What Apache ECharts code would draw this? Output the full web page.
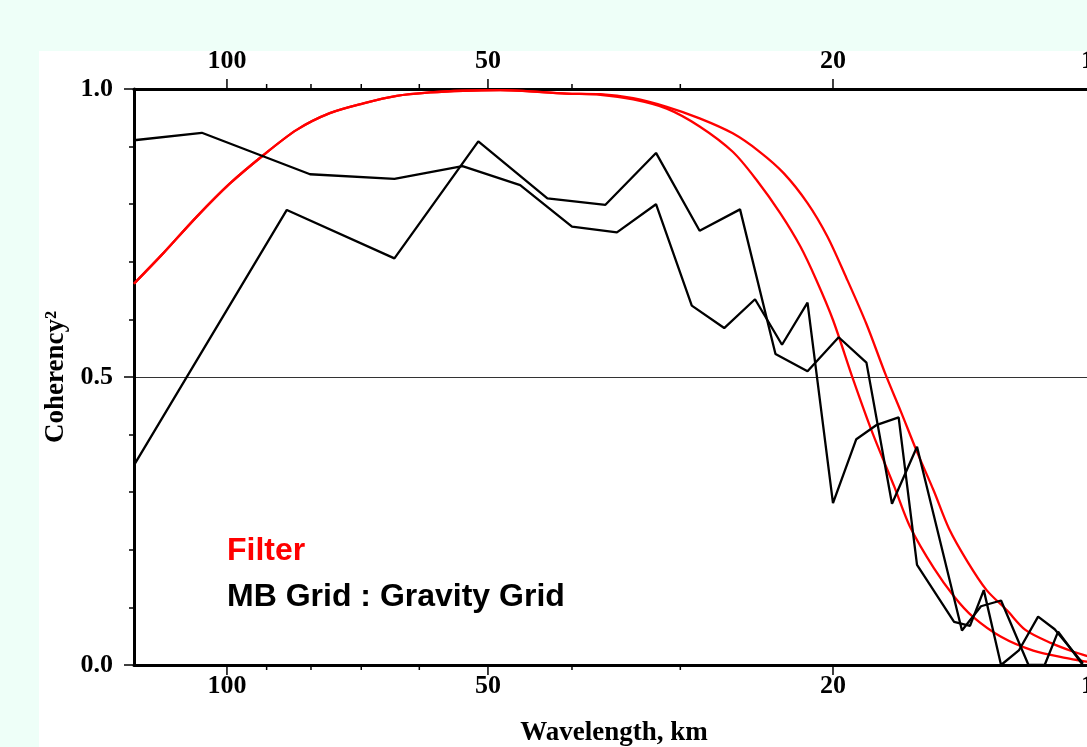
<!DOCTYPE html>
<html>
<head>
<meta charset="utf-8">
<title>Coherency</title>
<script src="https://cdn.jsdelivr.net/npm/echarts@6/dist/echarts.min.js"></script>
<style>
  html, body { margin: 0; padding: 0; width: 1087px; height: 747px; overflow: hidden; background: #eefff8; }
  .panel { position: absolute; left: 39px; top: 51px; width: 1200px; height: 800px; background: #fff; }
  #chart { position: absolute; left: 0; top: 0; width: 1200px; height: 747px; }
</style>
</head>
<body>
<div class="panel"></div>
<div id="chart"></div>
<script>
var serif = "'Liberation Serif', 'Times New Roman', serif";
var sans = "'Liberation Sans', Arial, sans-serif";

// x axis (wavelength, km) ticks
var xTickValues = [100, 90, 80, 70, 60, 50, 40, 30, 20, 10];
var xLabelValues = [100, 50, 20, 10];

// filter curves (two red lines, same on the long-wavelength side)
var filterInnerWl = [128, 118.4, 108.4, 99.2, 90.8, 83.1, 76.1, 69.6, 63.7, 58.3, 53.4, 48.4, 40.6, 37.1, 34.0, 31.1, 28.5, 26.1, 24.5, 23.0, 21.8, 20.9, 20.0, 18.95, 18.0, 17.0, 16.3, 15.3, 14.5, 13.8, 12.8, 11.75, 10.75, 10.2, 10.0];
var filterInnerVal = [0.662, 0.715, 0.778, 0.836, 0.885, 0.929, 0.958, 0.975, 0.988, 0.994, 0.997, 0.998, 0.992, 0.990, 0.982, 0.966, 0.935, 0.891, 0.842, 0.784, 0.726, 0.668, 0.599, 0.495, 0.402, 0.310, 0.240, 0.168, 0.119, 0.084, 0.049, 0.025, 0.012, 0.006, 0.004];
var filterOuterWl = [128, 118.4, 108.4, 99.2, 90.8, 83.1, 76.1, 69.6, 63.7, 58.3, 53.4, 48.4, 40.6, 37.1, 34.0, 31.1, 28.5, 26.1, 24.3, 22.8, 21.4, 20.3, 19.3, 18.3, 17.4, 16.7, 16.0, 15.3, 14.7, 14.0, 13.3, 12.6, 12.0, 11.2, 10.56, 10.2, 10.0];
var filterOuterVal = [0.662, 0.715, 0.778, 0.836, 0.885, 0.929, 0.958, 0.975, 0.988, 0.994, 0.997, 0.998, 0.992, 0.991, 0.984, 0.969, 0.949, 0.923, 0.891, 0.854, 0.802, 0.744, 0.672, 0.592, 0.505, 0.440, 0.370, 0.302, 0.237, 0.180, 0.130, 0.095, 0.061, 0.038, 0.023, 0.016, 0.013];

// measured coherency, MB grid vs gravity grid (two black lines)
var cohAWl = [128, 106.9, 80.2, 64.1, 53.5, 45.9, 40.0, 35.5, 32.0, 29.1, 26.7, 24.6, 22.9, 21.4, 20.0, 18.8, 17.8, 16.8, 16.0, 14.5, 13.9, 13.4, 12.8, 12.2, 11.6, 11.1, 10.3];
var cohAVal = [0.911, 0.924, 0.852, 0.844, 0.866, 0.833, 0.761, 0.751, 0.800, 0.624, 0.585, 0.635, 0.556, 0.629, 0.281, 0.392, 0.417, 0.430, 0.174, 0.075, 0.068, 0.130, 0.0, 0.026, 0.084, 0.062, 0.003];
var cohBWl = [128, 85.3, 64.1, 51.3, 42.7, 36.6, 32.0, 28.5, 25.6, 23.3, 21.4, 19.7, 18.3, 17.1, 16.0, 14.2, 13.5, 12.8, 11.9, 11.4, 11.0, 10.3];
var cohBVal = [0.347, 0.790, 0.706, 0.909, 0.810, 0.799, 0.889, 0.754, 0.791, 0.540, 0.510, 0.569, 0.525, 0.280, 0.379, 0.060, 0.102, 0.112, 0.0, 0.0, 0.058, 0.0];

function pairs(xs, ys) {
  return xs.map(function (x, i) { return [x, ys[i]]; });
}

var chart = echarts.init(document.getElementById('chart'));

var frameLine = { show: true, onZero: false, lineStyle: { color: '#000', width: 3 } };
var xBase = {
  type: 'log', logBase: 10, min: 10, max: 128, inverse: true,
  axisLine: frameLine, axisTick: { show: false }, axisLabel: { show: false }, splitLine: { show: false }
};

var option = {
  animation: false,
  backgroundColor: 'transparent',
  grid: { left: 134, top: 89, width: 960, height: 576, outerBoundsMode: 'none', containLabel: false },
  xAxis: [
    Object.assign({}, xBase, {
      position: 'bottom',
      name: 'Wavelength, km', nameLocation: 'middle', nameGap: 55,
      nameTextStyle: { fontFamily: serif, fontWeight: 'bold', fontSize: 27, color: '#000' }
    }),
    Object.assign({}, xBase, { position: 'top' })
  ],
  yAxis: [
    {
      type: 'value', min: 0, max: 1, interval: 0.1,
      axisLine: frameLine,
      axisTick: { show: true, inside: false, length: 5, lineStyle: { color: '#000', width: 1.5 } },
      axisLabel: { show: false }, splitLine: { show: false }
    },
    {
      type: 'value', position: 'left', min: 0, max: 1, interval: 0.5,
      axisLine: { show: false },
      axisTick: { show: true, inside: false, length: 10, lineStyle: { color: '#000', width: 1.5 } },
      axisLabel: {
        margin: 21, fontFamily: serif, fontWeight: 'bold', fontSize: 26, color: '#000',
        formatter: function (v) { return v.toFixed(1); }
      },
      splitLine: { show: true, lineStyle: { color: '#333', width: 1 } },
      name: 'Coherency\u00b2', nameLocation: 'middle', nameGap: 64,
      nameTextStyle: { fontFamily: serif, fontWeight: 'bold', fontSize: 27, color: '#000' }
    }
  ],
  graphic: [
    { type: 'text', x: 227, y: 551, style: { text: 'Filter', font: 'bold 32px ' + sans, fill: '#f00', align: 'left', verticalAlign: 'middle' } },
    { type: 'text', x: 227, y: 597, style: { text: 'MB Grid : Gravity Grid', font: 'bold 32px ' + sans, fill: '#000', align: 'left', verticalAlign: 'middle' } }
  ],
  series: [
    {
      name: 'Filter', type: 'line', data: pairs(filterInnerWl, filterInnerVal),
      showSymbol: false, smooth: 0.3,
      lineStyle: { color: '#f00', width: 2.3 }
    },
    {
      name: 'Filter', type: 'line', data: pairs(filterOuterWl, filterOuterVal),
      showSymbol: false, smooth: 0.3,
      lineStyle: { color: '#f00', width: 2.3 }
    },
    {
      name: 'MB Grid : Gravity Grid', type: 'line', data: pairs(cohAWl, cohAVal),
      showSymbol: false, lineStyle: { color: '#000', width: 2.3 }
    },
    {
      name: 'MB Grid : Gravity Grid', type: 'line', data: pairs(cohBWl, cohBVal),
      showSymbol: false, lineStyle: { color: '#000', width: 2.3 }
    },
    {
      // log-axis ticks and labels at 100, 90 ... 10, top and bottom
      type: 'custom', silent: true, clip: false,
      data: xTickValues.map(function (v) { return [v, xLabelValues.indexOf(v) >= 0 ? 1 : 0]; }),
      encode: { x: 0, y: 1 },
      renderItem: function (params, api) {
        var wl = api.value(0);
        var major = api.value(1) === 1;
        var top = api.coord([wl, 1]);
        var bot = api.coord([wl, 0]);
        var len = major ? 10 : 5;
        var st = { stroke: '#000', lineWidth: 1.5 };
        var kids = [
          { type: 'line', shape: { x1: top[0], y1: top[1], x2: top[0], y2: top[1] - len }, style: st },
          { type: 'line', shape: { x1: bot[0], y1: bot[1], x2: bot[0], y2: bot[1] + len }, style: st }
        ];
        if (major) {
          var font = 'bold 26px ' + serif;
          kids.push({ type: 'text', x: top[0], y: top[1] - 28, style: { text: String(wl), font: font, fill: '#000', align: 'center', verticalAlign: 'middle' } });
          kids.push({ type: 'text', x: bot[0], y: bot[1] + 21, style: { text: String(wl), font: font, fill: '#000', align: 'center', verticalAlign: 'middle' } });
        }
        return { type: 'group', children: kids };
      }
    }
  ]
};

chart.setOption(option);
</script>
</body>
</html>
